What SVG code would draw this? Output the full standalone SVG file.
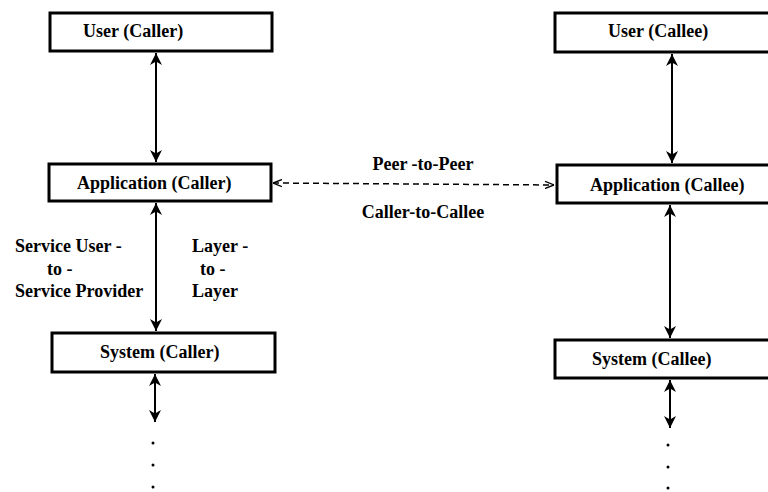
<svg xmlns="http://www.w3.org/2000/svg" width="768" height="492" viewBox="0 0 768 492">
<style>
.box{fill:#fff;stroke:#000;stroke-width:3}
.t{font-family:"Liberation Serif","Times New Roman",serif;font-weight:bold;font-size:18px;fill:#000}
.c{text-anchor:middle}
.ln{stroke:#000;stroke-width:2;fill:none}
.dash{stroke:#000;stroke-width:1.5;fill:none;stroke-dasharray:6 4}
.dot{fill:#000}
</style>
<defs>
<marker id="ah" viewBox="0 0 10 10" refX="10" refY="5" markerWidth="6" markerHeight="6" orient="auto-start-reverse" markerUnits="strokeWidth">
<path d="M0,0 L10,5 L0,10 L3,5 Z" fill="#000"/>
</marker>
<marker id="oh" viewBox="0 0 10 10" refX="10" refY="5" markerWidth="6" markerHeight="6" orient="auto-start-reverse" markerUnits="strokeWidth">
<path d="M0,1 L10,5 L0,9" fill="none" stroke="#000" stroke-width="1.5"/>
</marker>
</defs>
<rect width="768" height="492" fill="#fff"/>
<g id="user-caller"><rect class="box" x="50" y="13" width="222" height="38"/><text class="t" x="83" y="37">User (Caller)</text></g>
<g id="app-caller"><rect class="box" x="49" y="164" width="222" height="37"/><text class="t" x="77" y="189">Application (Caller)</text></g>
<g id="sys-caller"><rect class="box" x="52" y="333" width="223" height="39"/><text class="t" x="100" y="358">System (Caller)</text></g>
<g id="user-callee"><rect class="box" x="555" y="13" width="220" height="39"/><text class="t" x="608" y="37">User (Callee)</text></g>
<g id="app-callee"><rect class="box" x="557" y="165" width="220" height="38"/><text class="t" x="590" y="191">Application (Callee)</text></g>
<g id="sys-callee"><rect class="box" x="555" y="340" width="220" height="38"/><text class="t" x="592" y="365">System (Callee)</text></g>
<g id="connectors">
<line class="ln" x1="156" y1="53" x2="156" y2="162" marker-start="url(#ah)" marker-end="url(#ah)"/>
<line class="ln" x1="156" y1="203" x2="156" y2="331" marker-start="url(#ah)" marker-end="url(#ah)"/>
<line class="ln" x1="155" y1="374" x2="155" y2="422" marker-start="url(#ah)" marker-end="url(#ah)"/>
<line class="ln" x1="672" y1="54" x2="672" y2="163" marker-start="url(#ah)" marker-end="url(#ah)"/>
<line class="ln" x1="670" y1="205" x2="670" y2="338" marker-start="url(#ah)" marker-end="url(#ah)"/>
<line class="ln" x1="670" y1="380" x2="670" y2="428" marker-start="url(#ah)" marker-end="url(#ah)"/>
<line class="dash" x1="273" y1="183" x2="554" y2="185" marker-start="url(#oh)" marker-end="url(#oh)"/>
</g>
<g id="labels">
<text class="t c" x="423" y="170">Peer -to-Peer</text>
<text class="t c" x="423" y="218">Caller-to-Callee</text>
<text class="t" x="15" y="252">Service User -</text>
<text class="t" x="47" y="275">to -</text>
<text class="t" x="15" y="297">Service Provider</text>
<text class="t" x="192" y="252">Layer -</text>
<text class="t" x="200" y="275">to -</text>
<text class="t" x="192" y="297">Layer</text>
</g>
<g id="dots">
<circle class="dot" cx="153" cy="443" r="1.5"/><circle class="dot" cx="153" cy="465" r="1.5"/><circle class="dot" cx="153" cy="487" r="1.5"/>
<circle class="dot" cx="668" cy="445" r="1.5"/><circle class="dot" cx="668" cy="467" r="1.5"/><circle class="dot" cx="668" cy="488" r="1.5"/>
</g>
</svg>
